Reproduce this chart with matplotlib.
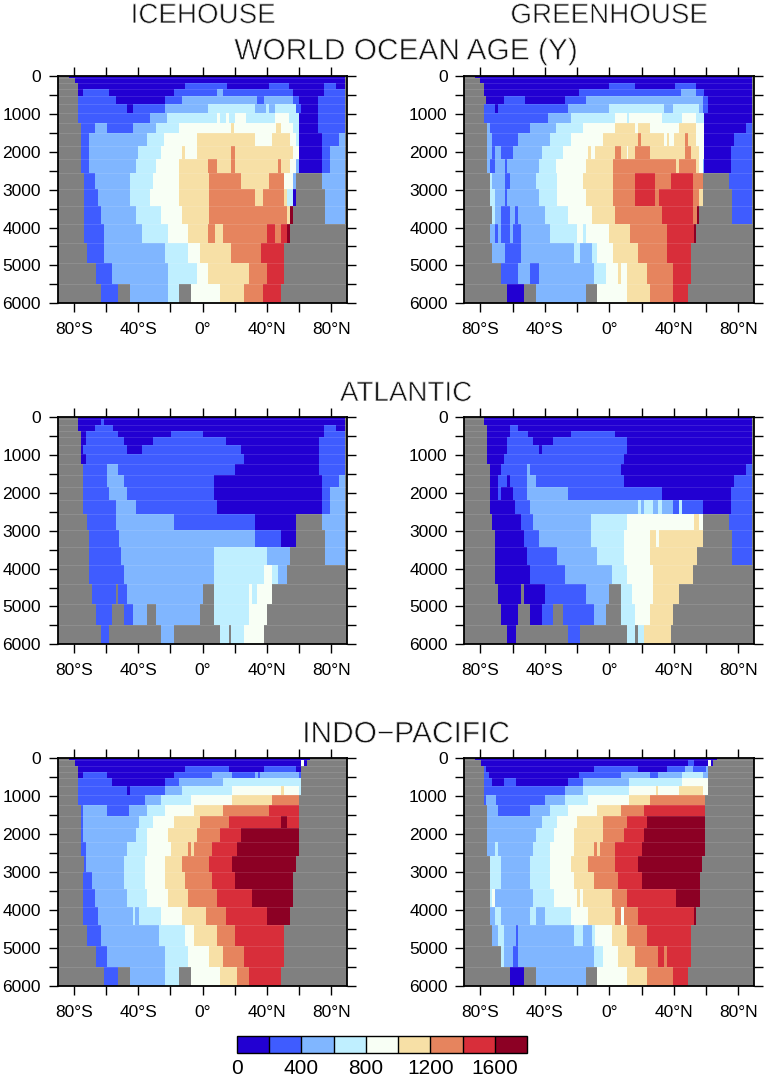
import numpy as np
import matplotlib
matplotlib.use('Agg')
import matplotlib.pyplot as plt
import matplotlib.patheffects as pe
from matplotlib.colors import ListedColormap, BoundaryNorm
from matplotlib.cm import ScalarMappable

# bottom of the model levels (m)
depth_edges = [0, 44, 194, 352, 528, 739, 968, 1232, 1513, 1839, 2199, 2569,
               2991, 3431, 3906, 4399, 4944, 5490, 6000]
age_levels = [0, 200, 400, 600, 800, 1000, 1200, 1400, 1600, 1800]
age_colors = ['#2200d2', '#3f5cff', '#80b6ff', '#bfefff', '#f8fff5',
              '#f7e0a6', '#e6845e', '#d82e3a', '#8c0024']
land_color = '#808080'

# one string per level: class, latitude where it stops, next class, ...
# classes are the colour bins, g is land
ice_world = [
    "g -83 0 88.5 g",
    "g -79.5 0 88.5 g",
    "g -77.5 0 -11 1 15 0 41.5 1 54 0 75.7 1 83 0 88.5 g",
    "g -77.5 0 -74.5 1 -58 0 -18 1 9 2 13 1 56 0 75.7 1 88.5 g",
    "g -77.5 1 -54 0 -23 1 -13 2 34 1 38 2 56.5 1 60 0 72 1 88.5 g",
    "g -77.5 1 -46.7 0 -43.6 1 -23 2 3.6 3 32.6 2 39.4 3 41.5 2 45 3 58 1 61.6 0 72 1 88.5 g",
    "g -77.5 1 -32.6 2 -22 3 9 4 11 3 14.4 4 16.5 3 20 4 27 3 45 4 54 3 60 0 72 1 88.5 g",
    "g -75.7 1 -66.8 2 -59.5 1 -43.6 2 -29 3 -14.6 4 18 5 19.5 4 45.5 5 48.5 4 56 3 60 0 72 1 88.5 g",
    "g -75.7 1 -70.3 2 -34.3 3 -23.7 4 -3.6 5 32.6 4 43.6 5 54.3 4 58 3 60 0 74 1 85 2 88.5 g",
    "g -75.7 1 -70.3 2 -40 3 -25.4 4 -12.5 5 -11 4 -3.6 5 18 6 20 5 56 4 60 0 74 1 79.6 2 88.5 g",
    "g -75.7 1 -70.3 2 -41.5 3 -29 4 -14.4 5 3.6 6 9.2 5 18 6 20 5 47 6 48.5 5 54.3 4 58 2 60 0 74 1 79.6 2 88.5 g",
    "g -73.6 1 -66.8 2 -45 3 -30.5 4 -14.4 5 4 6 23.7 5 41.5 6 50.6 4 56 2 58 g 74 2 88.5 g",
    "g -73.6 1 -65 2 -45 3 -32.6 4 -14.4 5 4 6 32.6 5 37.8 6 50.6 5 52.5 3 56 0 58 g 76 2 88.5 g",
    "g -73.6 1 -63 2 -41.5 3 -25.4 4 -12.5 5 4 6 52.5 5 54.3 8 56 g 76 2 88.5 g",
    "g -73.6 1 -61.6 2 -37.8 3 -21.8 4 -8.8 5 3.6 6 7.4 5 12.5 6 40 7 45 6 49 7 52.5 8 54.3 g",
    "g -72 1 -61.6 2 -23.3 3 -8.8 4 -1.5 5 18 6 36.3 7 50.6 g",
    "g -66.6 1 -56 2 -21.8 3 -3.6 4 3.6 5 29 6 40 7 50.6 g",
    "g -63 1 -52.3 g -45 2 -21.8 3 -14.4 g -7 4 10.9 5 25.4 6 37.8 7 48.5 g",
]
green_world = [
    "g -83.4 0 88.4 g",
    "g -80 0 88.4 g",
    "g -78 0 0 1 16 0 41 1 54 0 88.4 g",
    "g -77.6 0 -18.5 1 44.8 2 54 1 59 0 88.4 g",
    "g -76.3 0 -65.6 1 -52.3 0 -27.4 1 -14.7 2 58 1 61.4 0 88.4 g",
    "g -77.6 1 -70.7 0 -69 1 -25.7 2 0 3 34 2 39.6 3 55.8 2 58 1 61.4 0 88.4 g",
    "g -77.6 1 -38 2 -23.9 3 3.5 4 11 3 12.4 4 32.8 3 45 4 54 3 59 0 88.4 g",
    "g -76 2 -74.3 1 -49.4 2 -33 3 -16.6 4 3.5 5 15.8 4 18 5 25 4 43.4 5 54 4 59 0 84.8 1 88.4 g",
    "g -76 2 -72.4 1 -56.4 2 -36.5 3 -23.9 4 -3.7 5 18 6 19.7 5 34 4 36 5 37 4 40 5 47 6 48.8 5 54 4 59 0 77.6 1 88.4 g",
    "g -76 2 -72.4 1 -71 2 -67 1 -60 2 -41.7 3 -29 4 -12.9 5 -11.2 4 -9 5 3.5 6 7 5 10.8 4 11.8 5 16 6 25 5 47 6 50.6 5 55.8 4 58.5 2 59 0 75.7 1 88.4 g",
    "g -76 2 -74.3 1 -71 2 -65 1 -63.7 2 -43.6 3 -33 4 -14.7 5 1.9 6 41.3 5 43.4 6 54 5 55.8 4 58 2 59 0 75.7 1 88.4 g",
    "g -74.3 3 -72.4 2 -65 1 -61.8 2 -45.4 3 -32.8 4 -16.6 5 1.9 6 16 7 28.6 6 38 7 52.3 6 58 g 74.3 1 88.4 g",
    "g -74.3 3 -70.7 2 -65 1 -63.7 2 -43.6 3 -32.8 4 -14.7 5 1.9 6 16 7 28.6 6 30.7 7 52.3 6 55.8 5 58 g 76 1 88.4 g",
    "g -72.6 3 -70.7 2 -67 1 -61.8 2 -58.3 1 -56.4 2 -40 3 -25.7 4 -11 5 3.5 6 32.8 7 52.3 6 54.4 8 55.8 g 76 1 88.4 g",
    "g -74.3 2 -70.7 1 -69 2 -67 1 -61.8 2 -60 1 -54.6 2 -36.7 3 -20.3 4 -16.6 3 -14.7 4 0 5 12.7 6 36 7 52.5 8 54 g",
    "g -72.6 2 -65 1 -54.6 2 -22 3 -18 2 -11 3 -7.5 4 1.9 5 18 6 36 7 50.6 g",
    "g -67 1 -56.4 2 -49 1 -43.6 2 -9.3 3 -1.9 4 5.4 5 7 4 10.8 5 23.4 6 39.8 7 50.6 g",
    "g -63.7 0 -52.7 g -45.4 2 -14.7 g -7.5 4 10.8 5 25.3 6 39.8 7 48.8 g",
]
ice_atl = [
    "g -77.5 0 88.5 g",
    "g -77.5 0 -63 1 -61 0 88.5 g",
    "g -77.5 0 -66.8 1 -55.8 0 75.7 1 83 0 88.5 g",
    "g -75.7 0 -72.4 1 -52.3 0 -19.8 1 0 0 75.7 1 88.5 g",
    "g -75.7 0 -72.4 1 -48.5 0 -30.5 1 14.6 0 72.4 1 88.5 g",
    "g -75.7 0 -74 1 -46.7 0 -37.8 1 23.7 0 72.4 1 88.5 g",
    "g -75.7 0 -72.4 1 25.4 0 72.4 1 88.5 g",
    "g -74 1 -59.5 2 -52.3 1 20 0 72.4 1 88.5 g",
    "g -74 1 -59.5 2 -48.5 1 7.3 0 74 1 85 2 88.5 g",
    "g -74 1 -57.9 2 -46.7 1 7.3 0 74 1 79.6 2 88.5 g",
    "g -74 1 -54 2 -41.5 1 9.2 0 74 1 79.6 2 88.5 g",
    "g -72 1 -54 2 -18 1 32.8 0 58 g 74 2 88.5 g",
    "g -70.3 1 -52 2 32.8 1 48.8 0 58 g 76 2 88.5 g",
    "g -70.3 1 -50.6 2 7.3 3 40 2 54.3 g 76 2 88.5 g",
    "g -70.3 1 -48.8 2 7.3 3 38.2 4 43.6 3 47 2 52.5 g",
    "g -68.6 1 -54 g -52.3 1 -47 2 0 g 7.3 3 29 4 30.7 3 34 4 43.6 g",
    "g -66.6 1 -56 g -48.5 1 -43.4 2 -34.3 g -29 2 -1.5 g 7.3 3 29 4 40 g",
    "g -63 1 -57.9 g -25.4 2 -18 g 10.9 3 16.5 g 18 3 25.4 4 38.2 g",
]
green_atl = [
    "g -78 0 88.4 g",
    "g -78 0 88.4 g",
    "g -76 0 -61.8 1 -56.4 0 88.4 g",
    "g -76 0 -61.8 1 -50.6 0 -23.9 1 3.5 0 88.4 g",
    "g -76 0 -63.7 1 -47.3 0 -34.9 1 11 0 88.4 g",
    "g -76 0 -63.7 1 -43.6 0 -41.7 1 11 0 88.4 g",
    "g -76 0 -65.4 1 9 0 88.4 g",
    "g -74.3 0 -67.2 1 -51 2 -49 1 7.3 0 84.8 1 88.4 g",
    "g -74.3 0 -69 1 -63.5 0 -61.8 1 -51 2 -45.4 1 9 0 77.6 1 88.4 g",
    "g -74.3 0 -69 1 -67 0 -60 1 -51 2 -25.7 1 32.4 0 75.7 1 88.4 g",
    "g -74.3 0 -58.3 1 -49 2 18 3 19.8 2 21.6 3 27 2 30.4 3 32.5 2 39.8 1 43.4 3 45.2 1 57.9 0 75.7 1 88.4 g",
    "g -72.6 0 -54.6 1 -47.3 2 -11.2 3 10.8 4 52.5 5 55.8 4 57.9 g 74.3 1 88.4 g",
    "g -70.7 0 -52.7 1 -43.6 2 -11.2 3 9 4 25.3 5 28.8 4 30.7 5 57.9 g 76 1 88.4 g",
    "g -70.7 0 -51 1 -32.8 2 -7.5 3 9 4 25.3 5 54.4 g 76 1 88.4 g",
    "g -70.7 0 -49 1 -27.4 2 1.7 3 10.8 4 27 5 52.3 g",
    "g -69 0 -54.6 g -52.7 0 -40 1 -14.7 2 0 g 7.3 3 14.3 4 27 5 43.4 g",
    "g -67 0 -56.4 g -49 0 -41.7 1 -34.9 g -29 1 -9.3 2 -1.9 g 7.3 3 16 4 25.3 5 39.8 g",
    "g -63.5 0 -58 g -25.5 1 -18.3 g 10.8 3 16 g 18 3 21.6 5 38 g",
]
ice_pac = [
    "g -83 0 66.8 g",
    "g -79.6 0 61 4 63 0 65 g",
    "g -77.5 0 -10.9 1 16.5 0 38.2 1 58 0 61 g",
    "g -77.5 0 -74.5 1 -59.5 0 -18 1 5.7 2 18.3 1 32.4 2 34.5 1 36 2 59.7 1 61 g",
    "g -77.5 1 -56 0 -23.3 1 -14.4 2 12.5 3 61.6 g",
    "g -77.5 1 -46.7 0 -45 1 -23.3 2 -12.5 3 18.3 4 48.8 5 50.6 4 59.7 3 61.6 g",
    "g -77.5 1 -36 2 -25.4 3 -7 4 18.3 5 43.4 6 59.7 g",
    "g -75.7 1 -74 2 -59.5 1 -45.4 2 -34.3 3 -23.3 4 -5.3 5 13 6 41.5 7 59.7 g",
    "g -75.7 1 -74 2 -39.8 3 -30.7 4 -18 5 -1.5 6 16.5 7 48.8 8 52.5 7 59.7 g",
    "g -75.7 1 -74 2 -41.5 3 -34.3 4 -21.6 5 -3.6 6 11 7 23.7 8 59.7 g",
    "g -75.7 1 -72.4 2 -47 3 -34.3 4 -19.8 5 -8.8 6 -7 5 -5.3 6 5.7 7 21.8 8 59.7 g",
    "g -73.6 1 -72.4 2 -48.8 3 -36 4 -23.3 5 -12.5 6 3.8 7 18.3 8 58 g",
    "g -74 1 -68.6 2 -48.8 3 -36 4 -23.3 5 -10.7 6 5.7 7 20 8 56 g",
    "g -74 1 -66.8 2 -47 3 -34.3 4 -21.6 5 -8.8 6 9.2 7 30.7 8 56 g",
    "g -74 1 -65 2 -43.4 3 -41.7 2 -39.8 3 -25.4 4 -12.5 5 2 6 14.6 7 40 8 54.3 g",
    "g -72 1 -63 2 -27 3 -10.7 4 -5.3 5 9.2 6 20 7 50.6 g",
    "g -66.6 1 -59.5 2 -23.3 3 -8.8 4 3.8 5 13 6 25.4 7 50.6 g",
    "g -61.4 1 -52.3 g -45 2 -23.3 3 -14.4 g -7 4 11 5 21.8 6 29 7 48.8 g",
]
green_pac = [
    "g -83.4 0 66.8 g",
    "g -79.7 0 49 1 52.5 0 61.4 4 63.3 0 64.5 g",
    "g -78 1 -76.3 0 -9.3 1 18 0 36 1 47 2 52.3 1 59.8 2 61.4 g",
    "g -78 1 -74.5 0 -18.5 1 7 2 25.3 1 30.5 2 45 3 58 2 61.4 g",
    "g -78 1 -72.4 0 -65.6 1 -58 0 -25.7 1 -16.6 2 12.4 3 45 4 61.4 g",
    "g -78 1 -27.4 2 -16.6 3 12.4 4 28.8 5 30.5 4 43.4 5 58 4 61.4 g",
    "g -78 1 -76.3 2 -70.5 1 -40 2 -27.4 3 -12.9 4 12.6 5 25.5 6 59.5 g",
    "g -76 2 -69 1 -49.2 2 -36.5 3 -25.7 4 -7.5 5 7.3 6 21.8 7 59.5 g",
    "g -76 2 -41.9 3 -32.8 4 -20 5 -3.7 6 11 7 23.4 8 59.5 g",
    "g -76 2 -45.4 3 -34.6 4 -22 5 -3.7 6 9 7 21.8 8 59.5 g",
    "g -76 2 -70.7 3 -69 2 -47.3 3 -36.5 4 -22 5 -9.3 6 -7.5 5 -5.6 6 3.5 7 20 8 59.5 g",
    "g -74.3 3 -67.2 2 -49.2 3 -36.5 4 -23.7 5 -12.9 6 3.5 7 18 8 57.7 g",
    "g -74.3 3 -67.2 2 -49.2 3 -36.5 4 -22 5 -9.3 6 5.4 7 20 8 56 g",
    "g -74.3 3 -72.6 4 -70.7 2 -47.3 3 -34.6 4 -20 5 -18.3 4 -16.6 5 1.7 6 11 7 41.5 8 56 g",
    "g -74.3 2 -70.7 3 -67.2 2 -49.2 3 -45.4 2 -40 3 -23.9 4 -12.9 5 3.5 6 7 4 9 6 18 7 52.5 8 54 g",
    "g -72.6 2 -69 3 -65.4 2 -58 1 -56.4 2 -22 3 -16.6 2 -11 3 -9 4 1.7 5 10.8 6 23.4 7 50.4 g",
    "g -67.2 3 -65.4 2 -60 1 -56.4 2 -9.3 3 -3.7 4 5.4 5 16 6 30.5 7 34 6 36 7 50.4 g",
    "g -61.8 0 -52.7 g -45.4 2 -14.7 g -7.5 4 10.8 5 23.4 6 39.8 7 48.8 g",
]

W, H = 765, 1078
lat_edges = np.arange(-90, 90.01, 0.25)
lat_mid = 0.5 * (lat_edges[:-1] + lat_edges[1:])
cmap = ListedColormap(age_colors)
norm = BoundaryNorm(age_levels, cmap.N)

plt.rcParams['font.family'] = ['Liberation Sans', 'DejaVu Sans']


def make_grid(rows):
    grid = np.full((len(rows), lat_mid.size), np.nan)
    for i, row in enumerate(rows):
        parts = row.split()
        classes = parts[0::2]
        stops = [-90.0] + [float(p) for p in parts[1::2]] + [90.0]
        for k, c in enumerate(classes):
            if c == 'g':
                continue
            pick = (lat_mid >= stops[k]) & (lat_mid < stops[k + 1])
            grid[i, pick] = age_levels[int(c)] + 100
    return grid


def px_axes(fig, left, top, right, bottom):
    return fig.add_axes([left / W, 1 - bottom / H, (right - left) / W, (bottom - top) / H])


def lat_label(v):
    if v == 0:
        return '0°'
    return f"{abs(v)}°{'S' if v < 0 else 'N'}"


def draw_panel(ax, rows):
    ax.set_facecolor(land_color)
    ax.pcolormesh(lat_edges, depth_edges, make_grid(rows), cmap=cmap, norm=norm,
                  antialiased=False, rasterized=True)
    # faint seams between the levels, they show in the original
    ax.hlines(depth_edges[1:-1], -90, 90, color='white', lw=0.6, alpha=0.14)
    ax.set_xlim(-90, 90)
    ax.set_ylim(6000, 0)
    ax.set_xticks(np.arange(-80, 81, 20))
    ax.set_xticklabels([lat_label(v) if v % 40 == 0 else '' for v in range(-80, 81, 20)])
    ax.set_yticks(np.arange(0, 6001, 500))
    ax.set_yticklabels([str(v) if v % 1000 == 0 else '' for v in range(0, 6001, 500)])
    ax.tick_params(axis='both', which='major', top=True, right=True, direction='out',
                   length=6.5, width=1.0, labelsize=12.5)
    ax.tick_params(axis='x', pad=7)
    ax.tick_params(axis='y', pad=5.5)
    for s in ax.spines.values():
        s.set_linewidth(1.3)


fig = plt.figure(figsize=(W / 100, H / 100), dpi=100)

panels = [
    (ice_world, 57.7, 76, 347.3, 303.3),
    (green_world, 464.3, 76, 754.3, 303.3),
    (ice_atl, 57.7, 417.3, 347.3, 644.3),
    (green_atl, 464.3, 417.3, 754.3, 644.3),
    (ice_pac, 57.7, 758.3, 347.3, 986),
    (green_pac, 464.3, 758.3, 754.3, 986),
]
for rows, left, top, right, bottom in panels:
    draw_panel(px_axes(fig, left, top, right, bottom), rows)

titles = [
    ('ICEHOUSE', 203, 23, 20),
    ('GREENHOUSE', 609, 23, 20),
    ('WORLD OCEAN AGE (Y)', 406, 59.5, 21.5),
    ('ATLANTIC', 406, 401, 20),
    ('INDO\u2212PACIFIC', 406, 742.5, 21.5),
]
# the original lettering is a thin line font, so shave the strokes a bit
thin = [pe.Normal(), pe.Stroke(linewidth=0.55, foreground='white')]
for txt, x, y, size in titles:
    fig.text(x / W, 1 - y / H, txt, ha='center', va='baseline', fontsize=size,
             color='#111111', path_effects=thin)

cax = px_axes(fig, 237, 1036, 527, 1053)
cb = fig.colorbar(ScalarMappable(norm=norm, cmap=cmap), cax=cax, orientation='horizontal',
                  spacing='uniform', ticks=[0, 400, 800, 1200, 1600], drawedges=True)
cb.minorticks_off()
cb.ax.tick_params(length=0, labelsize=15, pad=4)
cb.dividers.set_linewidth(1.0)
cb.outline.set_linewidth(1.0)

fig.savefig('out.png', dpi=100)
